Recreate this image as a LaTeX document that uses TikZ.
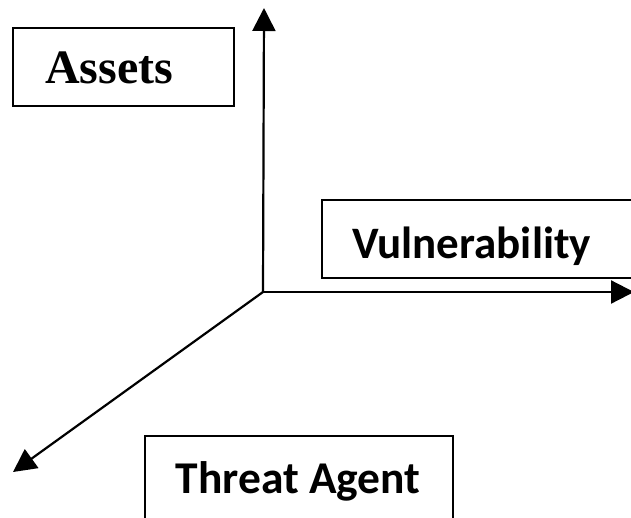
\documentclass[tikz,border=0pt]{standalone}
\usepackage{fontspec}
\usetikzlibrary{arrows.meta}
\newfontfamily\serifbold{Liberation Serif}[BoldFont={* Bold}]
\newfontfamily\sansbold{Carlito}[BoldFont={* Bold}]
\tikzset{
  axis/.style={line width=2.2pt, -{Triangle[length=23pt,width=23pt]}},
  frame/.style={draw, line width=1.6pt, rectangle, inner sep=0pt},
  lbl/.style={inner sep=0pt, anchor=base},
}
\begin{document}
\begin{tikzpicture}[x=1pt,y=-1pt]
  \useasboundingbox (0,0) rectangle (631,517);
  \fill[white] (0,0) rectangle (631,517);
  \clip (0,0) rectangle (631,517);

  % axes from a common origin
  \coordinate (O) at (263,292);
  \coordinate (up) at (264,8);
  \coordinate (right) at (634,292);
  \coordinate (down) at (13,472);
  \draw[axis] (O) -- (up);
  \draw[axis] (O) -- (right);
  \draw[axis] (O) -- (down);

  % boxes
  \node[frame, minimum width=221pt, minimum height=78pt] (assetsbox) at (123.5,67) {};
  \node[frame, minimum width=340pt, minimum height=78pt] (vulnbox) at (492,239) {};
  \node[frame, minimum width=308pt, minimum height=130pt] (threatbox) at (299,501) {};

  % labels
  \node[lbl, anchor=base west] (assets) at (45,83) {\fontsize{48}{48}\selectfont\serifbold\bfseries Assets};
  \node[lbl, anchor=base west] (vuln) at (352,258) {\fontsize{45}{45}\selectfont\sansbold\bfseries Vulnerability};
  \node[lbl] (threat) at (298,493) {\fontsize{45.5}{45.5}\selectfont\sansbold\bfseries Threat Agent};
\end{tikzpicture}
\end{document}
